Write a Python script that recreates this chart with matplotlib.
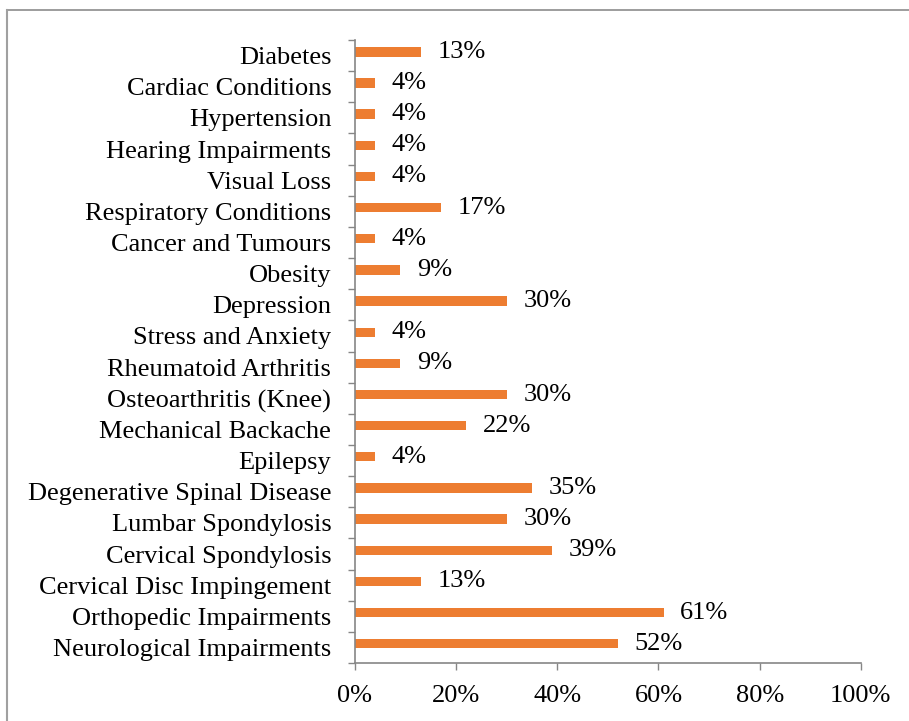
import matplotlib.pyplot as plt
from matplotlib.lines import Line2D

plt.rcParams['font.family'] = ['Liberation Serif', 'DejaVu Serif']

conditions = [
    "Neurological Impairments", "Orthopedic Impairments", "Cervical Disc Impingement",
    "Cervical Spondylosis", "Lumbar Spondylosis", "Degenerative Spinal Disease",
    "Epilepsy", "Mechanical Backache", "Osteoarthritis (Knee)", "Rheumatoid Arthritis",
    "Stress and Anxiety", "Depression", "Obesity", "Cancer and Tumours",
    "Respiratory Conditions", "Visual Loss", "Hearing Impairments", "Hypertension",
    "Cardiac Conditions", "Diabetes",
]
percent = [52, 61, 13, 39, 30, 35, 4, 22, 30, 9, 4, 30, 9, 4, 17, 4, 4, 4, 4, 13]
xticks = [0, 20, 40, 60, 80, 100]

bar_color = "#ED7D31"
axis_gray = "#868686"
fs = 19

fig = plt.figure(figsize=(9.09, 7.21), dpi=100)
ax = fig.add_axes([0.3905, 0.0804, 0.5565, 0.8641])

y = list(range(len(conditions)))
# bars sit a little above the category centre, like the original
ybar = [yi + 0.12 for yi in y]
ax.barh(ybar, percent, height=0.3, color=bar_color)
for yi, v in zip(ybar, percent):
    ax.text(v + 3.3, yi, f"{v}%", va="center", ha="left", fontsize=fs)

ax.set_xlim(0, 100)
ax.set_ylim(-0.5, len(conditions) - 0.5)
ax.set_xticks(xticks)
ax.set_xticklabels([f"{t}%" for t in xticks], fontsize=fs)
ax.set_yticks(y)
ax.set_yticklabels(conditions, fontsize=fs)
ax.set_yticks([i - 0.5 for i in range(len(conditions) + 1)], minor=True)
ax.tick_params(axis="y", which="major", length=0, pad=17)
ax.tick_params(axis="y", which="minor", length=5, color=axis_gray, width=1)
ax.tick_params(axis="x", length=5, color=axis_gray, width=1, pad=11)

for s in ["top", "right"]:
    ax.spines[s].set_visible(False)
for s in ["left", "bottom"]:
    ax.spines[s].set_color(axis_gray)
    ax.spines[s].set_linewidth(1.2)

# frame lines at top and left of the figure
fig.add_artist(Line2D([0.008, 1.0], [0.986, 0.986], transform=fig.transFigure,
                      color="#8c8c8c", lw=1.2))
fig.add_artist(Line2D([0.008, 0.008], [0.0, 0.986], transform=fig.transFigure,
                      color="#a0a0a0", lw=1.5))

fig.savefig("out.png", dpi=100)
